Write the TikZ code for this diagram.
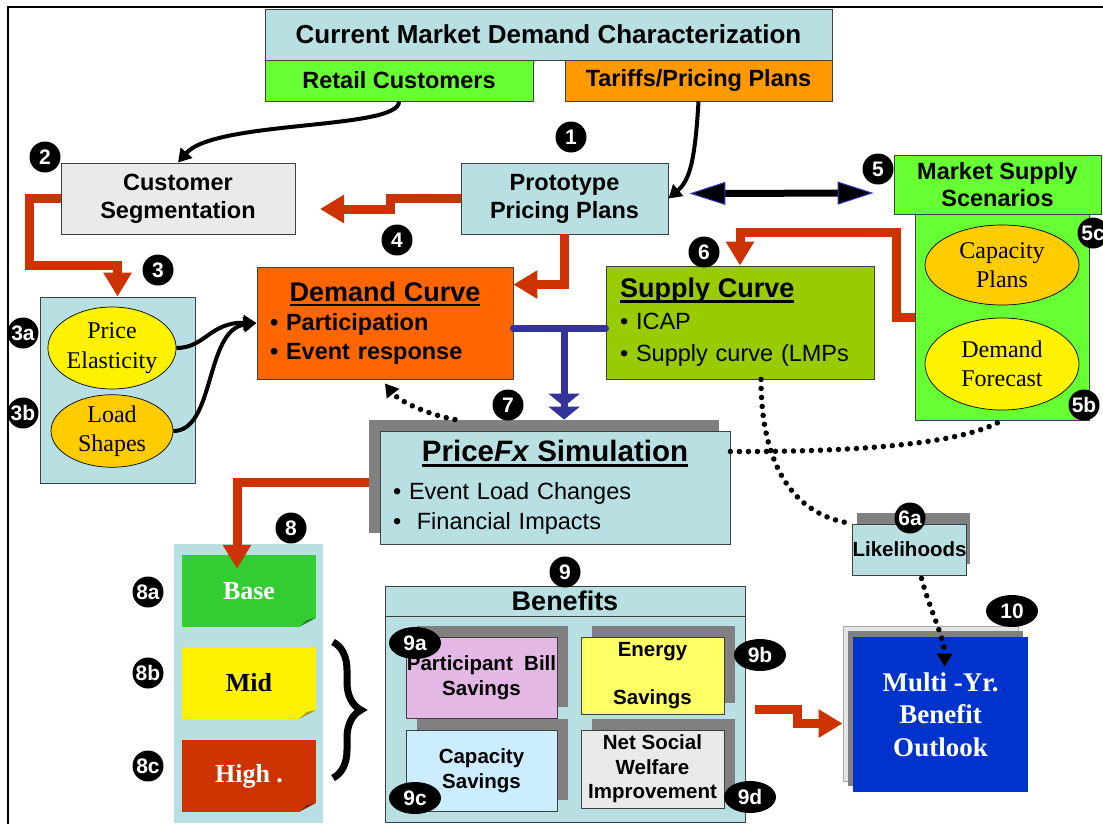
\documentclass[tikz,border=0pt]{standalone}
\usepackage{fontspec}
\setmainfont{Liberation Serif}
\setsansfont{Liberation Sans}
\usepackage{tikz}
\usetikzlibrary{positioning,arrows,arrows.meta,shapes,fit,calc,shadows,decorations.pathreplacing}
\usepackage[svgnames,table]{xcolor}

\definecolor{paleblue}{HTML}{B8E0E2}
\definecolor{brightgreen}{HTML}{66FF33}
\definecolor{tariffor}{HTML}{FF9900}
\definecolor{segray}{HTML}{EAEAEA}
\definecolor{demandor}{HTML}{FF6600}
\definecolor{supplygr}{HTML}{99CC00}
\definecolor{goldell}{HTML}{FFCC00}
\definecolor{rustred}{HTML}{CC3300}
\definecolor{teeblue}{HTML}{333399}
\definecolor{edgeblue}{HTML}{3333CC}
\definecolor{shadegray}{HTML}{808080}
\definecolor{lilac}{HTML}{E4B8E4}
\definecolor{paleyellow}{HTML}{FFFF66}
\definecolor{lightsky}{HTML}{CCECFF}
\definecolor{basegreen}{HTML}{33CC33}
\definecolor{outlookblue}{HTML}{0033CC}

\newcommand{\hdfont}{\sffamily\bfseries\fontsize{26}{30}\selectfont}
\newcommand{\lbfont}{\sffamily\bfseries\fontsize{23.5}{28}\selectfont}
\newcommand{\smfont}{\sffamily\bfseries\fontsize{20.5}{24.5}\selectfont}
\newcommand{\elfont}{\rmfamily\fontsize{24}{29.5}\selectfont}
\newcommand{\ulhead}[1]{\setbox0\hbox{#1}\rlap{\rule[-5pt]{\wd0}{2.6pt}}\box0}

\begin{document}
\begin{tikzpicture}[x=1pt, y=-1pt,
    box/.style={rectangle, draw=black!75, line width=0.9pt, align=center, inner sep=0pt, font=\lbfont},
    oval/.style={ellipse, draw=black, line width=0.7pt, align=center, inner sep=0pt, font=\elfont},
    sticky/.style={rectangle, inner sep=0pt, minimum width=134pt, minimum height=72pt,
        font=\rmfamily\bfseries\fontsize{26}{30}\selectfont,
        path picture={
            \fill[paleblue] (path picture bounding box.south east) -- ++(-17,0) -- ++(17,-9) -- cycle;
            \fill[black, opacity=0.35] (path picture bounding box.south east) ++(-17,0) -- ++(17,-9) -- ++(-9,2) -- cycle;}},
    badge/.style={circle, fill=black, text=white, inner sep=0pt, minimum size=31pt,
        font=\sffamily\bfseries\fontsize{21}{21}\selectfont},
    tag/.style={badge, ellipse, minimum width=52pt, minimum height=32pt},
    lift/.style={drop shadow={shadow xshift=#1, shadow yshift=11pt, fill=shadegray, opacity=1}},
    redarrow/.style={draw=rustred, line width=9pt, -{Triangle[length=24pt, width=27pt]}},
    blkarrow/.style={draw=black, line width=4pt, -{Triangle[length=13pt, width=15pt]}},
    dotline/.style={draw=black, line width=5.5pt, line cap=round, dash pattern=on 0pt off 9pt},
    dotarrow/.style={dotline, -{Triangle[length=13pt, width=15pt]}},
    tbar/.style={draw=teeblue, line width=7pt},
    dblarrow/.style={draw=black, line width=7pt,
        {Triangle[length=36pt, width=23pt, line width=1pt, color=edgeblue, fill=black]}-{Triangle[length=36pt, width=23pt, line width=1pt, color=edgeblue, fill=black]}}]

    \useasboundingbox (0,0) rectangle (1103,823);
    \fill[white] (0,0) rectangle (1103,823);
    \draw[line width=2.5pt] (8,7) rectangle (1130,850);

    % Demand side: characterization header and its two inputs
    \node[box, font=\hdfont, fill=paleblue, minimum width=567pt, minimum height=51pt] (title) at (548.5,34.5) {Current Market Demand Characterization};
    \node[box, fill=brightgreen, minimum width=268pt, minimum height=41pt] (retail) at (399,80.5) {Retail Customers};
    \node[box, fill=tariffor, minimum width=267pt, minimum height=41pt] (tariffs) at (698.5,80.5) {Tariffs/Pricing Plans};
    \node[box, fill=paleblue, minimum width=207pt, minimum height=71pt] (proto) at (564.5,198.5) {Prototype\\Pricing Plans};
    \node[box, fill=segray, minimum width=234pt, minimum height=71pt] (custseg) at (178,198.5) {Customer\\Segmentation};

    % Elasticity block (3a, 3b)
    \node[box, fill=paleblue, minimum width=155pt, minimum height=186pt] (elastbox) at (117.5,390) {};
    \node[oval, fill=yellow, minimum width=122pt, minimum height=82pt] (priceel) at (112,348) {Price\\Elasticity};
    \node[oval, fill=goldell, minimum width=122pt, minimum height=60pt] (loadsh) at (112,431) {Load\\Shapes};

    % Demand and supply curves
    \node[box, fill=demandor, minimum width=256pt, minimum height=112pt, text width=230pt, align=left,
          font=\sffamily\bfseries\fontsize{23.5}{29}\selectfont] (demand) at (385,323)
        {\makebox[230pt]{\fontsize{27}{29}\selectfont\ulhead{Demand Curve}}\\ \textbullet\ Participation\\ \textbullet\ Event response};
    \node[box, fill=supplygr, minimum width=268pt, minimum height=113pt, text width=240pt, align=left,
          font=\sffamily\fontsize{23.5}{32}\selectfont] (supply) at (740,322.5)
        {{\bfseries\fontsize{27}{32}\selectfont\ulhead{Supply Curve}}\\ \textbullet\ ICAP\\ \textbullet\ Supply curve (LMPs};

    % Market supply scenarios (5a, 5b)
    \node[box, fill=brightgreen, minimum width=174pt, minimum height=206pt] (mssbody) at (1002,317) {};
    \node[box, fill=brightgreen, minimum width=207pt, minimum height=59pt, font=\sffamily\bfseries\fontsize{23.5}{27}\selectfont] (mss) at (997.5,184.5) {Market Supply\\Scenarios};
    \node[oval, fill=goldell, minimum width=154pt, minimum height=80pt] (capplans) at (1002,265) {Capacity\\Plans};
    \node[oval, fill=yellow, minimum width=154pt, minimum height=92pt] (demfc) at (1002,364) {Demand\\Forecast};

    % Simulation engine
    \node[box, fill=paleblue, lift=-11pt, minimum width=350pt, minimum height=113pt, text width=324pt, align=left,
          font=\sffamily\fontsize{23.5}{30}\selectfont] (sim) at (555,487.5)
        {\makebox[324pt]{\bfseries\fontsize{29.5}{30}\selectfont\ulhead{Price\textit{Fx} Simulation}}\\[8pt] \textbullet\ Event Load Changes\\ \textbullet\ \ Financial Impacts};
    \node[box, fill=paleblue, drop shadow={shadow xshift=4pt, shadow yshift=11pt, fill=shadegray, opacity=1},
          minimum width=113pt, minimum height=51pt, font=\smfont] (likeli) at (909.5,549.5) {Likelihoods};

    % Scenarios (8a-8c)
    \node[rectangle, fill=paleblue, minimum width=149pt, minimum height=279pt] (scenstrip) at (248.5,683.5) {};
    \node[sticky, fill=basegreen, text=white] (base) at (249,591) {Base};
    \node[sticky, fill=yellow, text=black] (mid) at (249,683) {Mid};
    \node[sticky, fill=rustred, text=white] (high) at (249,776) {High .};
    \draw[decorate, decoration={brace, amplitude=28pt}, line width=7pt] (333,642) -- (333,778);

    % Benefits (9a-9d)
    \node[box, fill=paleblue, minimum width=360pt, minimum height=206pt] (benbody) at (565,719) {};
    \node[box, fill=paleblue, minimum width=360pt, minimum height=30pt, font=\sffamily\bfseries\fontsize{27}{28}\selectfont] (benhead) at (565,601) {Benefits};
    \node[box, fill=lilac, lift=11pt, minimum width=151pt, minimum height=81pt, font=\smfont] (billsav) at (481.5,677.5) {Participant\ \ Bill\\Savings};
    \node[box, fill=paleyellow, lift=11pt, minimum width=143pt, minimum height=77pt, font=\smfont] (energysav) at (652.5,675.5) {Energy\\[24pt]Savings};
    \node[box, fill=lightsky, lift=11pt, minimum width=151pt, minimum height=81pt, font=\smfont] (capsav) at (481.5,770.5) {Capacity\\Savings};
    \node[box, fill=segray, lift=11pt, minimum width=143pt, minimum height=78pt, font=\smfont] (netsoc) at (652.5,769) {Net Social\\Welfare\\Improvement};

    % Outlook
    \node[box, draw=none, fill=outlookblue, text=white, minimum width=175pt, minimum height=155pt,
          drop shadow={shadow xshift=-10pt, shadow yshift=11pt, fill=black!10, draw=black!35, opacity=1},
          drop shadow={shadow xshift=-5pt, shadow yshift=6pt, fill=shadegray, opacity=1},
          font=\rmfamily\bfseries\fontsize{27}{32.5}\selectfont] (multi) at (940.5,714.5) {Multi -Yr.\\Benefit\\Outlook};

    % Connectors
    \coordinate (segtip) at (320,209);
    \draw[blkarrow] (retail.south) .. controls (400,130) and (215,120) .. (custseg.north);
    \draw[blkarrow] (tariffs.south) .. controls (695,160) and (690,180) .. (proto.east);
    \draw[redarrow] (proto.west) -- ++(-70,0) |- (segtip);
    \draw[redarrow] (proto.south) |- ($(demand.north east)+(0,18)$);
    \draw[redarrow] (custseg.west) -- ++(-31,0) |- ($(elastbox.north west)+(78,-31)$) -- ($(elastbox.north west)+(78,0)$);
    \draw[redarrow] (mssbody.west) -- ++(-18,0) |- ($(supply.north)+(0,-33)$) -- (supply.north);
    \draw[dblarrow] ($(proto.east)+(21,-5)$) -- ($(mss.west)+(-20,8.5)$);
    \draw[blkarrow] (priceel.east) .. controls (205,348) and (210,322) .. (demand.west);
    \draw[blkarrow] (loadsh.east) .. controls (215,431) and (205,330) .. (demand.west);

    % Curves feed the simulation
    \coordinate (tee) at ($(demand.east)!0.55!(supply.west)+(0,5)$);
    \draw[tbar, line cap=round] ($(demand.east)+(0,5)$) -- ($(supply.west)+(0,5.5)$);
    \draw[tbar, -{Triangle[length=13pt, width=31pt] Triangle[length=13pt, width=31pt]}] (tee) -- ($(tee |- sim.north)+(0,-11)$);

    \draw[dotarrow] ($(sim.north)+(-100,-11)$) .. controls (425,414) and (398,400) .. ($(demand.south)+(0,4)$);
    \draw[dotline] ($(sim.east)+(0,-36)$) .. controls (850,452) and (960,445) .. (mssbody.south);
    \draw[dotline] ($(supply.south)+(21,0)$) .. controls (761,460) and (790,515) .. (likeli.north west);
    \draw[dotarrow] ($(likeli.south)+(12,3)$) .. controls (930,610) and (945,640) .. ($(multi.north)+(4,30)$);

    \draw[redarrow] ($(sim.west)+(-11,-5)$) -| ($(base.north)+(-12,14)$);
    \draw[redarrow] ($(benbody.east)+(10,-10)$) -- ++(42,0) |- ($(multi.west)+(-10,9)$);

    % Step numbers
    \node[badge] (n1) at (571,137) {1};
    \node[badge] (n2) at (45,157) {2};
    \node[badge] (n3) at (158,270) {3};
    \node[badge] (n3a) at (23,333) {3a};
    \node[badge] (n3b) at (23,413) {3b};
    \node[badge] (n4) at (397,240) {4};
    \node[badge] (n5) at (878,169) {5};
    \node[badge] (n5c) at (1093,233) {5c};
    \node[badge] (n5b) at (1084,405) {5b};
    \node[badge] (n6) at (704,252) {6};
    \node[badge] (n6a) at (910,518) {6a};
    \node[badge] (n7) at (508,405) {7};
    \node[badge] (n8) at (291,528) {8};
    \node[badge] (n8a) at (148,592) {8a};
    \node[badge] (n8b) at (148,673) {8b};
    \node[badge] (n8c) at (148,766) {8c};
    \node[badge] (n9) at (565,572) {9};
    \node[tag] (n9a) at (415,643) {9a};
    \node[tag] (n9b) at (760,655) {9b};
    \node[tag] (n9c) at (415,798) {9c};
    \node[tag] (n9d) at (750,797) {9d};
    \node[tag] (n10) at (1012,611) {10};
\end{tikzpicture}
\end{document}
